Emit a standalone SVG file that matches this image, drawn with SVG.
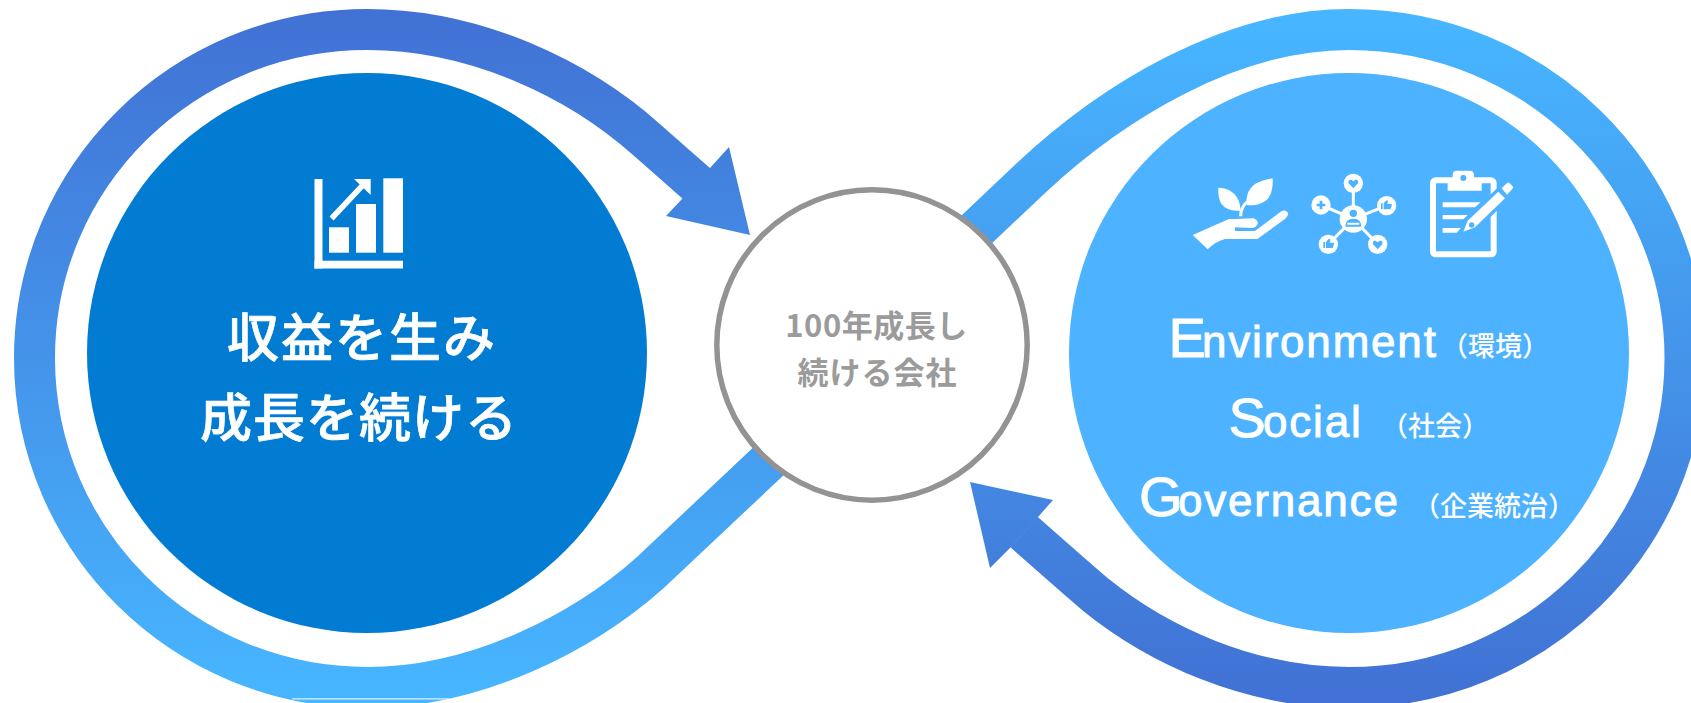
<svg xmlns="http://www.w3.org/2000/svg" width="1691" height="703" viewBox="0 0 1691 703">
<style>
.band{fill:none;stroke-width:41}
.jp{font-family:"Noto Sans CJK JP","Noto Sans",sans-serif}
.big{fill:#fff;stroke:#fff;stroke-width:.7;font-size:52px;font-weight:500}
.mid{fill:#9b9b9b;font-size:31px;font-weight:700}
.la{font-family:"Liberation Sans",Arial,sans-serif;fill:#fff;stroke:#fff;stroke-width:.9}
.cap{font-size:56px}
.low{font-size:44px;letter-spacing:1.8px}
.kj{font-family:"Noto Sans CJK JP",sans-serif;fill:#fff;font-size:27px;font-weight:500}
.w{fill:#fff}
.b{fill:#4db2ff}
.wl{fill:none;stroke:#fff;stroke-width:9}
</style>
<defs>
<linearGradient id="gl" gradientUnits="userSpaceOnUse" x1="0" y1="9" x2="0" y2="690"><stop offset="0" stop-color="#4171d4"/><stop offset="1" stop-color="#47b5ff"/></linearGradient>
<linearGradient id="gr" gradientUnits="userSpaceOnUse" x1="0" y1="30" x2="0" y2="703"><stop offset="0" stop-color="#47b5ff"/><stop offset="1" stop-color="#4171d4"/></linearGradient>
</defs>
<rect width="1691" height="703" fill="#fff"/>
<g id="connectors">
<path class="band" stroke="url(#gl)" d="M790,441 L651,572 C584,632 477,687.5 367,687.5 C183.4,687.5 34.5,540 34.5,358 C34.5,176 183.4,29.5 367,29.5 C477,29.5 580,80 647,140 C665,156 680,169 697,184"/>
<polygon fill="url(#gl)" points="750,235 729,147 710,168 682,199 666,216"/>
<path class="band" stroke="url(#gr)" d="M955,250 L1031,178 C1111,103 1229,29.5 1349,29.5 C1534.6,29.5 1685,176.3 1685,358 C1685,539.7 1534.6,687.5 1349,687.5 C1249,687.5 1158,645 1096,595 C1075,577 1050,555 1024,532"/>
<polygon fill="url(#gr)" points="970,482 1053,500 1038,517 1011,547 990,568"/>
<rect x="292" y="698.4" width="157" height="1" fill="#fff"/>
</g>
<g id="node-growth">
<circle cx="367" cy="353" r="280" fill="#027bd3"/>
<g id="icon-chart" class="w">
<rect x="314.5" y="179" width="8" height="89.5"/>
<rect x="314.5" y="260.7" width="88.5" height="7.8"/>
<rect x="329" y="227.3" width="20" height="25.4"/>
<rect x="356" y="204" width="20" height="48.7"/>
<rect x="383.3" y="178.3" width="19.7" height="74.4"/>
<path d="M354,179 H370.7 V195 Z"/>
<path d="M331.5,218.5 L362,186" fill="none" stroke="#fff" stroke-width="5.5"/>
</g>
<text class="jp big" text-anchor="middle" letter-spacing="2" x="362" y="357">収益を生み</text>
<text class="jp big" text-anchor="middle" letter-spacing="1" x="359" y="437">成長を続ける</text>
</g>
<g id="node-esg">
<circle cx="1349" cy="353" r="280" fill="#4db2ff"/>
<g id="icons-esg" transform="translate(1170 150) scale(.33333)">
<g id="icon-plant">
<path class="w" d="M68,255 L175,208 L250,205 Q265,210 263,222 Q260,232 245,234 L195,232 L195,243 L255,243 L335,183 Q350,177 355,192 Q352,200 345,207 L262,267 L165,267 Q135,275 113,298 Z"/>
<path class="w" d="M145,113 Q190,115 205,150 Q213,170 210,182 Q170,185 153,160 Q143,140 145,113 Z"/>
<path class="w" d="M308,85 Q310,130 290,150 Q265,170 230,165 Q225,125 255,102 Q280,88 308,85 Z"/>
<path class="wl" d="M212,199 Q212,172 232,155"/>
</g>
<g id="icon-network">
<path class="wl" d="M550,110 V207 M453,165 L550,207 L650,167 M475,283 L550,207 L623,283"/>
<circle class="w" cx="550" cy="207" r="41"/>
<circle class="w" cx="550" cy="100" r="29"/>
<circle class="w" cx="453" cy="165" r="29"/>
<circle class="w" cx="650" cy="167" r="29"/>
<circle class="w" cx="475" cy="283" r="29"/>
<circle class="w" cx="623" cy="283" r="29"/>
<circle class="b" cx="550" cy="190" r="11"/>
<path class="b" d="M526,230 Q526,206 550,206 Q574,206 574,230 Z M532,218 H568 V224 H532 Z" fill-rule="evenodd"/>
<path class="b" d="M550,115 L536,100 Q533,88 544,89 L550,94 L556,89 Q567,88 564,100 Z"/>
<path class="b" d="M623,298 L609,283 Q606,271 617,272 L623,277 L629,272 Q640,271 637,283 Z"/>
<path class="b" d="M449,152 H457 V161 H466 V169 H457 V178 H449 V169 H440 V161 H449 Z"/>
<path class="b" d="M633,160 H638 V178 H633 Z M641,160 L648,152 Q653,148 654,155 L652,162 H664 Q667,165 664,170 L661,178 H641 Z"/>
<path class="b" d="M460,276 H465 V294 H460 Z M468,276 L475,268 Q480,264 481,271 L479,278 H491 Q494,281 491,286 L488,294 H468 Z"/>
</g>
<g id="icon-clipboard">
<rect x="789" y="91" width="182" height="222" rx="8" fill="none" stroke="#fff" stroke-width="18"/>
<path class="w" d="M848,75 Q848,62 860,62 L898,62 Q912,62 912,75 L912,90 L935,90 L935,122 L833,122 L833,90 L848,90 Z"/>
<circle class="b" cx="880" cy="84" r="9"/>
<path class="w" d="M818,157 H932 L915,172 H818 Z M818,195 H893 L880,208 H818 Z M818,234 H873 L860,248 H818 Z"/>
<path class="b" stroke="#4db2ff" stroke-width="20" d="M985,125 L1005,145 L915,232 L880,245 L893,212 Z M995,115 L1015,97 L1030,113 L1010,135 Z"/>
<path class="w" d="M985,125 L1005,145 L915,232 L880,245 L893,212 Z"/>
<path class="w" d="M995,115 L1011,99 Q1015,96 1019,100 L1028,109 Q1031,113 1027,117 L1011,134 Z"/>
<ellipse class="b" cx="905" cy="225" rx="8" ry="8"/>
</g>
</g>
<text class="la"><tspan class="cap" x="1168.5" y="357">E</tspan><tspan class="low" x="1202" y="357">nvironment</tspan></text>
<text class="kj" x="1441" y="356">（環境）</text>
<text class="la"><tspan class="cap" x="1228.5" y="437">S</tspan><tspan class="low" x="1263" y="437">ocial</tspan></text>
<text class="kj" x="1381" y="436">（社会）</text>
<text class="la"><tspan class="cap" x="1139" y="516">G</tspan><tspan class="low" x="1178" y="516">overnance</tspan></text>
<text class="kj" x="1413" y="516">（企業統治）</text>
</g>
<g id="node-center">
<circle cx="872" cy="345" r="155.2" fill="#fff" stroke="#939393" stroke-width="5.5"/>
<text class="jp mid" text-anchor="middle" x="876.5" y="337" letter-spacing=".5">100年成長し</text>
<text class="jp mid" text-anchor="middle" x="877.5" y="384" letter-spacing="1">続ける会社</text>
</g>
</svg>
